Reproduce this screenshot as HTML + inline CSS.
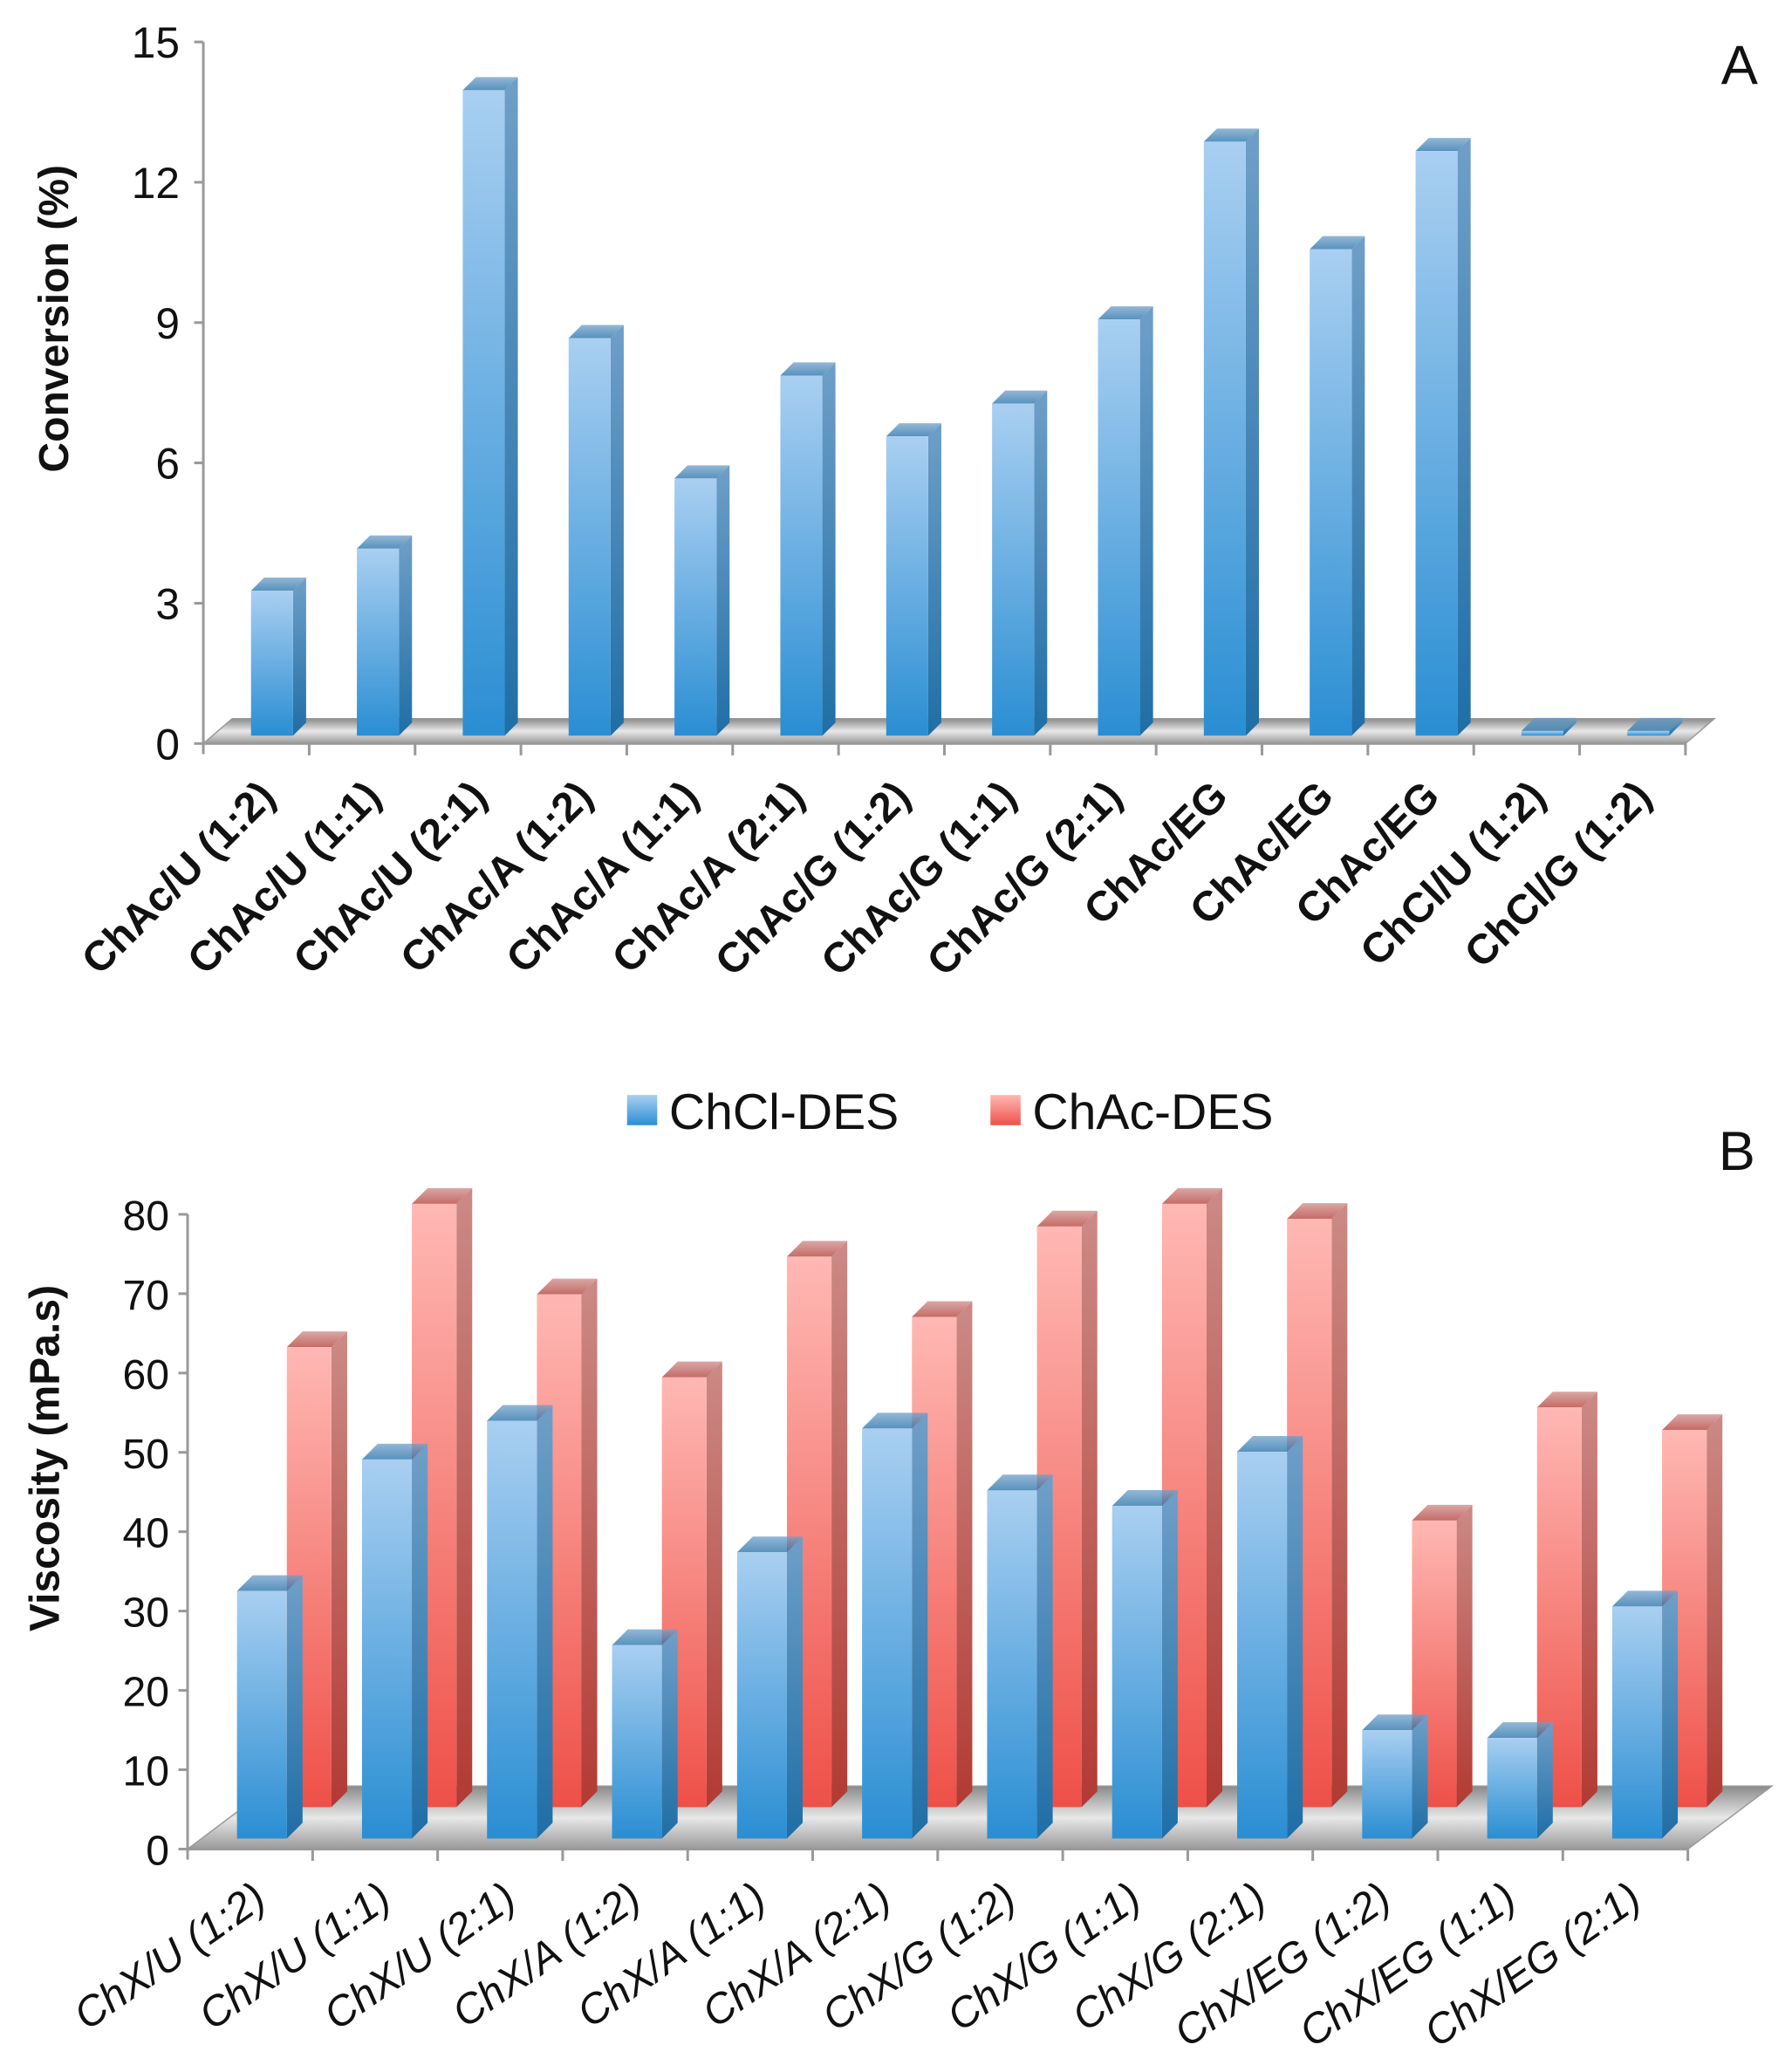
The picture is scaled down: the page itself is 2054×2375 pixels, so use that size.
<!DOCTYPE html>
<html><head><meta charset="utf-8"><style>
html,body{margin:0;padding:0;background:#fff;overflow:hidden;width:2054px;height:2375px}
svg{display:block}
text{font-family:"Liberation Sans",Arial,sans-serif;fill:#111}
</style></head><body>
<svg id="svg" width="2054" height="2375" viewBox="0 0 1366 1580" preserveAspectRatio="none" xmlns="http://www.w3.org/2000/svg">
<defs>
<linearGradient id="bf" x1="0" y1="0" x2="0" y2="1"><stop offset="0" stop-color="#a9cff1"/><stop offset="1" stop-color="#2a8ed3"/></linearGradient>
<linearGradient id="bs" x1="0" y1="0" x2="0" y2="1"><stop offset="0" stop-color="#6f9fc8"/><stop offset="1" stop-color="#1f6ea6"/></linearGradient>
<linearGradient id="rf" x1="0" y1="0" x2="0" y2="1"><stop offset="0" stop-color="#ffb8b4"/><stop offset="1" stop-color="#ee5048"/></linearGradient>
<linearGradient id="rs" x1="0" y1="0" x2="0" y2="1"><stop offset="0" stop-color="#cc8a86"/><stop offset="1" stop-color="#b23a33"/></linearGradient>
<linearGradient id="fl" x1="0" y1="0" x2="0" y2="1"><stop offset="0" stop-color="#8a8a8a"/><stop offset="0.5" stop-color="#e8e8e8"/><stop offset="1" stop-color="#9a9a9a"/></linearGradient>
</defs>
<g id="chartA"></g>
<g id="chartB"></g>
</svg>
<script>
const catsA=["ChAc/U (1:2)","ChAc/U (1:1)","ChAc/U (2:1)","ChAc/A (1:2)","ChAc/A (1:1)","ChAc/A (2:1)","ChAc/G (1:2)","ChAc/G (1:1)","ChAc/G (2:1)","ChAc/EG","ChAc/EG","ChAc/EG","ChCl/U (1:2)","ChCl/G (1:2)"];
const valsA=[3.1,4.0,13.8,8.5,5.5,7.7,6.4,7.1,8.9,12.7,10.4,12.5,0.1,0.1];
const ticksA=[0,3,6,9,12,15];
const catsB=["ChX/U (1:2)","ChX/U (1:1)","ChX/U (2:1)","ChX/A (1:2)","ChX/A (1:1)","ChX/A (2:1)","ChX/G (1:2)","ChX/G (1:1)","ChX/G (2:1)","ChX/EG (1:2)","ChX/EG (1:1)","ChX/EG (2:1)"];
const chclB=[32,49,54,25,37,53,45,43,50,14,13,30];
const chacB=[61,80,68,57,73,65,77,80,78,38,53,50];
const ticksB=[0,10,20,30,40,50,60,70,80];
const NS="http://www.w3.org/2000/svg";
function mk(p,t,a,txt){const e=document.createElementNS(NS,t);for(const k in a)e.setAttribute(k,a[k]);if(txt!==undefined)e.textContent=txt;p.appendChild(e);return e;}
function bar(g,x,w,base,top,d,f,s){
 const b=mk(g,"g",{});
 
 
 mk(b,"polygon",{points:`${x+w},${top} ${x+w+d},${top-d} ${x+w+d},${base-d} ${x+w},${base}`,fill:s});
 mk(b,"polygon",{points:`${x},${top} ${x+d},${top-d} ${x+w+d},${top-d} ${x+w},${top}`,fill:s,opacity:0.75});
 mk(b,"rect",{x:x,y:top,width:w,height:base-top,fill:f});
 return b;
}
// Chart A
(function(){
 const g=document.getElementById('chartA');
 const x0=155,y0=567,yTop=32,max=15,n=catsA.length,step=80.7;
 const sy=v=>y0-(v/max)*(y0-yTop);
 const floor=mk(g,"polygon",{points:`${x0},${y0} ${x0+n*step},${y0} ${x0+n*step+22},${y0-19} ${x0+22},${y0-19}`,fill:"url(#fl)",stroke:"#9a9a9a"});
 
 mk(g,"line",{x1:x0,y1:yTop,x2:x0,y2:y0+8,stroke:"#999","stroke-width":2});
 mk(g,"line",{x1:x0,y1:y0,x2:x0+n*step,y2:y0,stroke:"#999","stroke-width":2});
 ticksA.forEach(t=>{mk(g,"line",{x1:x0-7,y1:sy(t),x2:x0,y2:sy(t),stroke:"#999","stroke-width":2});
  const l=mk(g,"text",{x:x0-18,y:sy(t)+12,"text-anchor":"end","font-size":33},t);
  });
 const scale=(y0-yTop)/max;
 valsA.forEach((v,i)=>{
  const c=x0+step*(i+0.5)+12,w=32,base=y0-6;
  bar(g,c-w/2,w,base,base-v*scale,10,"url(#bf)","url(#bs)");
 });
 catsA.forEach((c,i)=>{
  const tx=x0+step*(i+1);
  mk(g,"line",{x1:tx,y1:y0,x2:tx,y2:y0+9,stroke:"#999","stroke-width":2});
  const cx=x0+step*(i+0.5)+16;
  const l=mk(g,"text",{x:cx,y:y0+42,"text-anchor":"end","font-size":32,"font-weight":"bold",transform:`rotate(-45 ${cx} ${y0+42})`},c);
  
 });
 const t=mk(g,"text",{x:52,y:243,"text-anchor":"middle","font-size":32,"font-weight":"bold",transform:"rotate(-90 52 243)"},"Conversion (%)");
 
 const a=mk(g,"text",{x:1326,y:64,"text-anchor":"middle","font-size":42},"A");
 
})();
// Chart B
(function(){
 const g=document.getElementById('chartB');
 const x0=143,y0=1410,yTop=926,max=80,n=catsB.length,step=95.3;
 const sy=v=>y0-(v/max)*(y0-yTop);
 const floor=mk(g,"polygon",{points:`${x0},${y0} ${x0+n*step},${y0} ${x0+n*step+64},${y0-48} ${x0+64},${y0-48}`,fill:"url(#fl)",stroke:"#9a9a9a"});
 
 mk(g,"line",{x1:x0,y1:yTop,x2:x0,y2:y0+8,stroke:"#999","stroke-width":2});
 mk(g,"line",{x1:x0,y1:y0,x2:x0+n*step,y2:y0,stroke:"#999","stroke-width":2});
 ticksB.forEach(t=>{mk(g,"line",{x1:x0-7,y1:sy(t),x2:x0,y2:sy(t),stroke:"#999","stroke-width":2});
  const l=mk(g,"text",{x:x0-14,y:sy(t)+12,"text-anchor":"end","font-size":32},t);
  });
 const rBase=1378,rScale=5.75,bBase=1402,bScale=5.9;
 chacB.forEach((v,i)=>{
  const c=x0+step*(i+0.5)+45,w=34;
  bar(g,c-w/2,w,rBase,rBase-v*rScale,12,"url(#rf)","url(#rs)");
 });
 chclB.forEach((v,i)=>{
  const c=x0+step*(i+0.5)+9,w=38;
  bar(g,c-w/2,w,bBase,bBase-v*bScale,12,"url(#bf)","url(#bs)");
 });
 catsB.forEach((c,i)=>{
  const tx=x0+step*(i+1);
  mk(g,"line",{x1:tx,y1:y0,x2:tx,y2:y0+9,stroke:"#999","stroke-width":2});
  const cx=x0+step*(i+0.5)+14;
  const l=mk(g,"text",{x:cx,y:y0+42,"text-anchor":"end","font-size":32,"font-style":"italic",transform:`rotate(-35 ${cx} ${y0+42})`},c);
  
 });
 const t=mk(g,"text",{x:45,y:1112,"text-anchor":"middle","font-size":32,"font-weight":"bold",transform:"rotate(-90 45 1112)"},"Viscosity (mPa.s)");
 
 const b=mk(g,"text",{x:1324,y:892,"text-anchor":"middle","font-size":42},"B");
 
 const l1=mk(g,"g",{});
 
 mk(l1,"rect",{x:478,y:835,width:23,height:23,fill:"url(#bf)"});
 mk(l1,"text",{x:510,y:861,"font-size":38},"ChCl-DES");
 const l2=mk(g,"g",{});
 
 mk(l2,"rect",{x:755,y:835,width:23,height:23,fill:"url(#rf)"});
 mk(l2,"text",{x:787,y:861,"font-size":38},"ChAc-DES");
})();
</script>
</body></html>
